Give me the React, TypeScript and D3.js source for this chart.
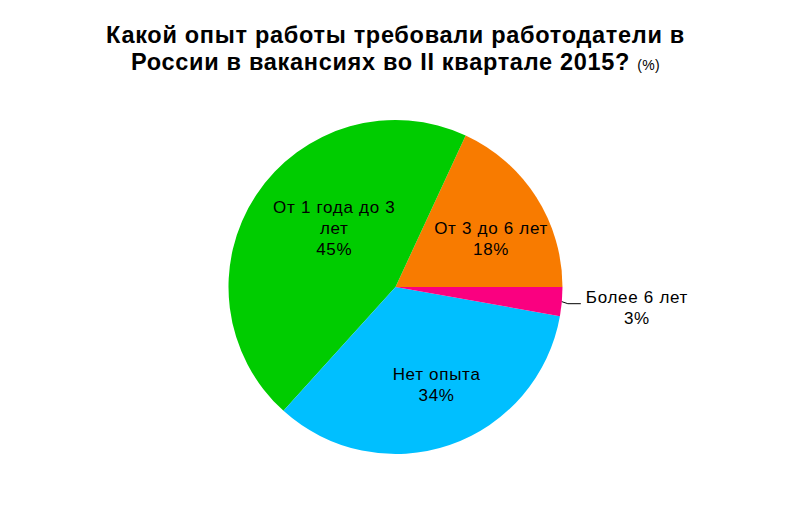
import { useEffect, useRef } from "react"
import * as d3 from "d3"

// slices in drawing order (counter-clockwise from 3 o'clock)
const categories = ["От 3 до 6 лет", "От 1 года до 3 лет", "Нет опыта", "Более 6 лет"]
const labelLines = [["От 3 до 6 лет"], ["От 1 года до 3", "лет"], ["Нет опыта"], ["Более 6 лет"]]
const values = [18.1, 45.2, 33.9, 2.8]
const colors = ["#F87B00", "#00CC00", "#00BFFF", "#FA0080"]

const titleLines = ["Какой опыт работы требовали работодатели в", "России в вакансиях во II квартале 2015?"]
const titleUnit = "(%)"

// inside-label placement tweaks: [angle shift in degrees, radius in px]; null = outside label
const labelPlacement: ([number, number] | null)[] = [[5.9, 107], [10.4, 85], [-3.9, 106], null]

const W = 809
const H = 524
const FONT = "'Liberation Sans', Arial, sans-serif"
const SPACING = 0.7

export default function App() {
  const ref = useRef<SVGSVGElement>(null)

  useEffect(() => {
    if (!ref.current) return
    const svg = d3.select(ref.current)
    svg.selectAll("*").remove()

    const cx = 395.5
    const cy = 287
    const r = 167

    svg
      .append("rect")
      .attr("width", W)
      .attr("height", H)
      .attr("fill", "white")

    // title
    const title = svg
      .append("text")
      .attr("text-anchor", "middle")
      .attr("font-family", FONT)
      .attr("letter-spacing", SPACING)
      .attr("fill", "#000")
    title
      .append("tspan")
      .attr("x", 395.5)
      .attr("y", 42.5)
      .attr("font-size", 23.5)
      .attr("font-weight", 700)
      .text(titleLines[0])
    const l2 = title.append("tspan").attr("x", 395.5).attr("y", 69.5)
    l2.append("tspan").attr("font-size", 23.5).attr("font-weight", 700).text(titleLines[1] + " ")
    l2.append("tspan").attr("font-size", 14).attr("letter-spacing", 0.3).text(titleUnit)

    const pie = d3
      .pie<number>()
      .sort(null)
      .startAngle(Math.PI / 2)
      .endAngle(Math.PI / 2 - 2 * Math.PI)
    const arcs = pie(values)
    const arc = d3.arc<d3.PieArcDatum<number>>().innerRadius(0).outerRadius(r)

    const g = svg.append("g").attr("transform", `translate(${cx},${cy})`)
    g.selectAll("path")
      .data(arcs)
      .join("path")
      .attr("d", arc)
      .attr("fill", (_, i) => colors[i])

    const total = d3.sum(values)
    const pct = (v: number) => `${Math.round((v / total) * 100)}%`
    const lineH = 21

    arcs.forEach((a, i) => {
      const mid = (a.startAngle + a.endAngle) / 2
      const lines = [...labelLines[i], pct(a.value)]
      const place = labelPlacement[i]
      const t = g
        .append("text")
        .attr("text-anchor", "middle")
        .attr("font-family", FONT)
        .attr("font-size", 17)
        .attr("letter-spacing", SPACING)
        .attr("fill", "#000")
      if (place) {
        const ang = mid + (place[0] * Math.PI) / 180
        const x = Math.sin(ang) * place[1]
        const y = -Math.cos(ang) * place[1]
        const first = y - ((lines.length - 1) * lineH) / 2 + 6
        lines.forEach((s, k) => {
          t.append("tspan").attr("x", x).attr("y", first + k * lineH).text(s)
        })
      } else {
        const ex = Math.sin(mid) * r
        const ey = -Math.cos(mid) * r
        const bx = Math.sin(mid) * (r + 6)
        const by = -Math.cos(mid) * (r + 6) + 1.5
        const hx = bx + 13
        g.append("path")
          .attr("d", `M${ex},${ey}L${bx},${by}L${hx},${by}`)
          .attr("fill", "none")
          .attr("stroke", "#000")
          .attr("stroke-width", 1)
        const spans = lines.map((s) => t.append("tspan").text(s))
        const wMax = d3.max(spans, (s) => (s.node() as SVGTSpanElement).getComputedTextLength()) ?? 0
        const tx = hx + 5 + wMax / 2
        const first = by + 4 - ((lines.length - 1) * lineH) / 2 + 6
        spans.forEach((s, k) => s.attr("x", tx).attr("y", first + k * lineH))
      }
    })
  }, [])

  return (
    <svg
      ref={ref}
      width={W}
      height={H}
      style={{ position: "absolute", left: 0, top: 0, display: "block" }}
    />
  )
}
